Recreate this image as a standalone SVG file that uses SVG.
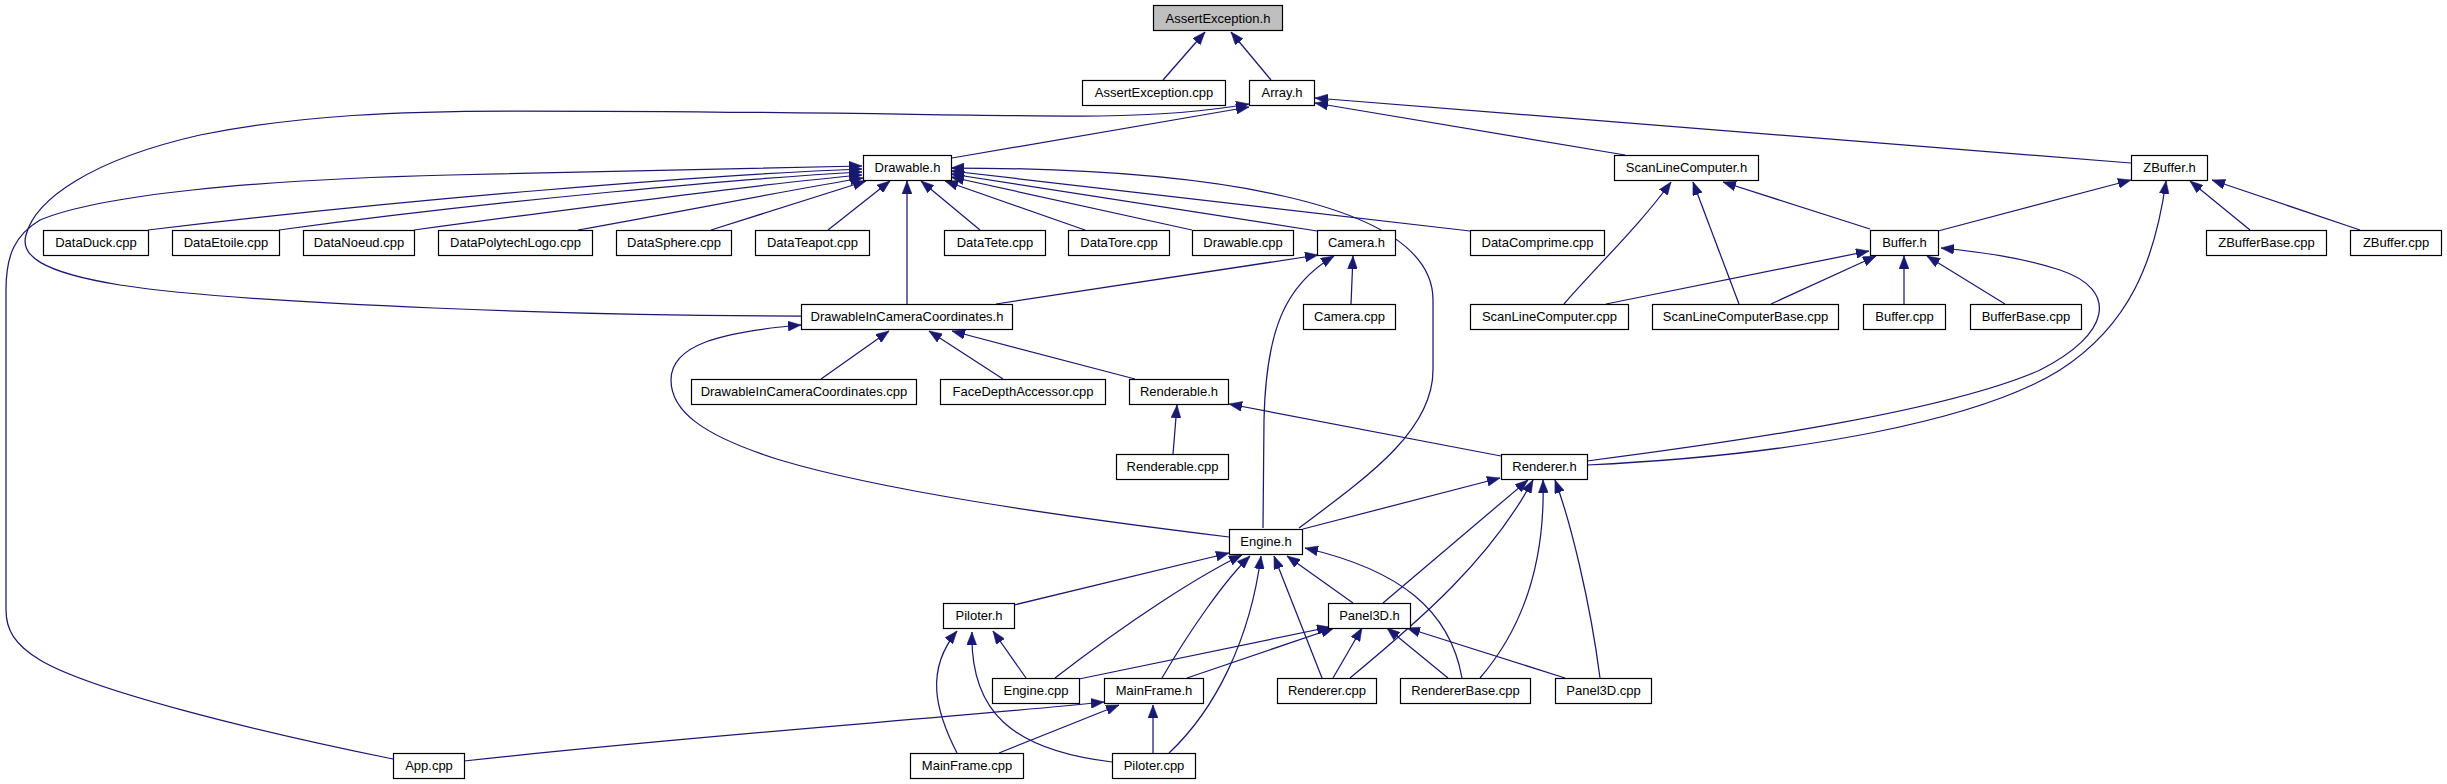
<svg xmlns="http://www.w3.org/2000/svg" width="2447" height="784" viewBox="0 0 2447 784">
<style>
.n rect{fill:#fff;stroke:#000;stroke-width:1.2}
.n text{font-family:"Liberation Sans",Arial,sans-serif;font-size:13px;text-anchor:middle;fill:#000}
#edges path{fill:none;stroke:#191970;stroke-width:1.25;marker-end:url(#ah)}
</style>
<defs>
<marker id="ah" viewBox="0 0 13 10" refX="13" refY="5" markerWidth="13" markerHeight="10" markerUnits="userSpaceOnUse" orient="auto"><path d="M0,0 L13,5 L0,10 z" fill="#191970" stroke="#191970" stroke-width="0.5"/></marker>
</defs>
<rect width="2447" height="784" fill="#fff"/>
<g id="edges">
<path d="M1163,80 L1205,32"/>
<path d="M1271,80 L1231,32"/>
<path d="M952,158 L1249,107"/>
<path d="M801,316 C600,316 250,305 120,285 C40,272 20,255 26,235 C35,200 90,160 200,135 C300,115 400,111 520,111 C800,111 1000,117 1100,116 C1170,115 1220,109 1249,104"/>
<path d="M393,759 C250,730 90,690 40,660 C15,645 6,630 6,610 L6,290 C6,255 15,235 40,220 C100,195 250,180 450,175 C650,170 780,167 862,166"/>
<path d="M148,230 C400,200 700,175 862,169"/>
<path d="M279,230 C500,200 750,178 862,172"/>
<path d="M414,230 C600,205 780,182 862,175"/>
<path d="M578,230 C700,208 800,188 863,178"/>
<path d="M711,230 L866,181"/>
<path d="M828,230 L890,181"/>
<path d="M907,304 L907,181"/>
<path d="M980,230 L921,181"/>
<path d="M1085,230 L945,181"/>
<path d="M1192,230 L951,177"/>
<path d="M1317,231 L951,174"/>
<path d="M1470,231 L951,171"/>
<path d="M1299,528 C1370,475 1433,430 1433,370 L1433,300 C1433,200 1200,168 951,168"/>
<path d="M996,304 L1318,255"/>
<path d="M1351,304 L1353,256"/>
<path d="M1263,528 L1264,420 C1266,330 1285,285 1334,256"/>
<path d="M821,379 L889,331"/>
<path d="M1003,379 L929,331"/>
<path d="M1135,379 L952,331"/>
<path d="M1229,537 C1050,515 880,490 780,460 C700,435 671,410 671,380 C671,345 720,332 801,325"/>
<path d="M1173,454 L1177,405"/>
<path d="M1501,456 L1229,404"/>
<path d="M1625,155 L1315,103"/>
<path d="M2131,163 L1315,98"/>
<path d="M1564,304 C1595,268 1640,225 1671,182"/>
<path d="M1739,304 L1693,182"/>
<path d="M1870,229 L1723,182"/>
<path d="M1938,231 L2131,180"/>
<path d="M1606,304 L1869,251"/>
<path d="M1771,304 L1876,256"/>
<path d="M1904,304 L1904,256"/>
<path d="M2005,304 L1927,256"/>
<path d="M1587,461 C1750,440 1950,410 2040,370 C2110,335 2120,290 2060,270 C2020,257 1980,252 1941,248"/>
<path d="M1587,465 C1800,455 1980,420 2060,370 C2130,325 2155,260 2166,181"/>
<path d="M2250,230 L2190,181"/>
<path d="M2360,230 L2212,180"/>
<path d="M1303,529 L1500,478"/>
<path d="M1383,603 L1528,480"/>
<path d="M1350,678 C1420,620 1490,560 1533,480"/>
<path d="M1480,678 C1530,620 1545,550 1543,480"/>
<path d="M1600,678 C1590,600 1570,520 1555,480"/>
<path d="M1014,605 L1229,553"/>
<path d="M1055,678 C1130,620 1200,575 1242,555"/>
<path d="M1162,678 C1190,630 1225,580 1250,556"/>
<path d="M1169,753 C1215,710 1250,640 1261,556"/>
<path d="M1322,678 L1274,556"/>
<path d="M1353,603 L1287,556"/>
<path d="M1462,678 C1450,610 1400,570 1305,548"/>
<path d="M1026,678 L993,631"/>
<path d="M957,753 C935,710 925,670 957,631"/>
<path d="M1112,762 C1010,750 970,710 972,632"/>
<path d="M1079,679 L1330,627"/>
<path d="M1187,678 L1334,628"/>
<path d="M1333,678 L1362,628"/>
<path d="M1448,678 L1387,628"/>
<path d="M1565,678 L1407,628"/>
<path d="M464,761 C700,735 950,718 1104,702"/>
<path d="M999,753 L1119,705"/>
<path d="M1153,753 L1153,705"/>
</g>
<g id="n_AssertException_h" class="n"><rect x="1153.5" y="5.5" width="129" height="25" style="fill:#bfbfbf"/><text x="1218" y="22.5">AssertException.h</text></g>
<g id="n_AssertException_cpp" class="n"><rect x="1082.5" y="80.5" width="143" height="25"/><text x="1154" y="97">AssertException.cpp</text></g>
<g id="n_Array_h" class="n"><rect x="1249.5" y="80.5" width="65" height="25"/><text x="1282" y="97">Array.h</text></g>
<g id="n_Drawable_h" class="n"><rect x="863.5" y="155.5" width="88" height="25"/><text x="907.5" y="172">Drawable.h</text></g>
<g id="n_ScanLineComputer_h" class="n"><rect x="1614.5" y="155.5" width="144" height="25"/><text x="1686.5" y="172">ScanLineComputer.h</text></g>
<g id="n_ZBuffer_h" class="n"><rect x="2131.5" y="155.5" width="76" height="25"/><text x="2169.5" y="172">ZBuffer.h</text></g>
<g id="n_DataDuck_cpp" class="n"><rect x="43.5" y="230.5" width="105" height="25"/><text x="96" y="247">DataDuck.cpp</text></g>
<g id="n_DataEtoile_cpp" class="n"><rect x="172.5" y="230.5" width="107" height="25"/><text x="226" y="247">DataEtoile.cpp</text></g>
<g id="n_DataNoeud_cpp" class="n"><rect x="303.5" y="230.5" width="111" height="25"/><text x="359" y="247">DataNoeud.cpp</text></g>
<g id="n_DataPolytechLogo_cpp" class="n"><rect x="438.5" y="230.5" width="154" height="25"/><text x="515.5" y="247">DataPolytechLogo.cpp</text></g>
<g id="n_DataSphere_cpp" class="n"><rect x="616.5" y="230.5" width="115" height="25"/><text x="674" y="247">DataSphere.cpp</text></g>
<g id="n_DataTeapot_cpp" class="n"><rect x="755.5" y="230.5" width="114" height="25"/><text x="812.5" y="247">DataTeapot.cpp</text></g>
<g id="n_DataTete_cpp" class="n"><rect x="944.5" y="230.5" width="101" height="25"/><text x="995" y="247">DataTete.cpp</text></g>
<g id="n_DataTore_cpp" class="n"><rect x="1068.5" y="230.5" width="101" height="25"/><text x="1119" y="247">DataTore.cpp</text></g>
<g id="n_Drawable_cpp" class="n"><rect x="1192.5" y="230.5" width="101" height="25"/><text x="1243" y="247">Drawable.cpp</text></g>
<g id="n_Camera_h" class="n"><rect x="1317.5" y="230.5" width="78" height="25"/><text x="1356.5" y="247">Camera.h</text></g>
<g id="n_DataComprime_cpp" class="n"><rect x="1470.5" y="230.5" width="134" height="25"/><text x="1537.5" y="247">DataComprime.cpp</text></g>
<g id="n_Buffer_h" class="n"><rect x="1870.5" y="230.5" width="68" height="25"/><text x="1904.5" y="247">Buffer.h</text></g>
<g id="n_ZBufferBase_cpp" class="n"><rect x="2206.5" y="230.5" width="120" height="25"/><text x="2266.5" y="247">ZBufferBase.cpp</text></g>
<g id="n_ZBuffer_cpp" class="n"><rect x="2350.5" y="230.5" width="91" height="25"/><text x="2396" y="247">ZBuffer.cpp</text></g>
<g id="n_DrawableInCameraCoordinates_h" class="n"><rect x="801.5" y="304.5" width="211" height="25"/><text x="907" y="321">DrawableInCameraCoordinates.h</text></g>
<g id="n_Camera_cpp" class="n"><rect x="1303.5" y="304.5" width="92" height="25"/><text x="1349.5" y="321">Camera.cpp</text></g>
<g id="n_ScanLineComputer_cpp" class="n"><rect x="1470.5" y="304.5" width="158" height="25"/><text x="1549.5" y="321">ScanLineComputer.cpp</text></g>
<g id="n_ScanLineComputerBase_cpp" class="n"><rect x="1652.5" y="304.5" width="186" height="25"/><text x="1745.5" y="321">ScanLineComputerBase.cpp</text></g>
<g id="n_Buffer_cpp" class="n"><rect x="1863.5" y="304.5" width="82" height="25"/><text x="1904.5" y="321">Buffer.cpp</text></g>
<g id="n_BufferBase_cpp" class="n"><rect x="1970.5" y="304.5" width="111" height="25"/><text x="2026" y="321">BufferBase.cpp</text></g>
<g id="n_DrawableInCameraCoordinates_cpp" class="n"><rect x="691.5" y="379.5" width="225" height="25"/><text x="804" y="396">DrawableInCameraCoordinates.cpp</text></g>
<g id="n_FaceDepthAccessor_cpp" class="n"><rect x="940.5" y="379.5" width="165" height="25"/><text x="1023" y="396">FaceDepthAccessor.cpp</text></g>
<g id="n_Renderable_h" class="n"><rect x="1129.5" y="379.5" width="99" height="25"/><text x="1179" y="396">Renderable.h</text></g>
<g id="n_Renderable_cpp" class="n"><rect x="1116.5" y="454.5" width="112" height="25"/><text x="1172.5" y="471">Renderable.cpp</text></g>
<g id="n_Renderer_h" class="n"><rect x="1501.5" y="454.5" width="86" height="25"/><text x="1544.5" y="471">Renderer.h</text></g>
<g id="n_Engine_h" class="n"><rect x="1229.5" y="529.5" width="73" height="25"/><text x="1266" y="546">Engine.h</text></g>
<g id="n_Piloter_h" class="n"><rect x="943.5" y="603.5" width="71" height="25"/><text x="979" y="620">Piloter.h</text></g>
<g id="n_Panel3D_h" class="n"><rect x="1328.5" y="603.5" width="82" height="25"/><text x="1369.5" y="620">Panel3D.h</text></g>
<g id="n_Engine_cpp" class="n"><rect x="992.5" y="678.5" width="87" height="25"/><text x="1036" y="695">Engine.cpp</text></g>
<g id="n_MainFrame_h" class="n"><rect x="1104.5" y="678.5" width="99" height="25"/><text x="1154" y="695">MainFrame.h</text></g>
<g id="n_Renderer_cpp" class="n"><rect x="1277.5" y="678.5" width="99" height="25"/><text x="1327" y="695">Renderer.cpp</text></g>
<g id="n_RendererBase_cpp" class="n"><rect x="1400.5" y="678.5" width="130" height="25"/><text x="1465.5" y="695">RendererBase.cpp</text></g>
<g id="n_Panel3D_cpp" class="n"><rect x="1555.5" y="678.5" width="96" height="25"/><text x="1603.5" y="695">Panel3D.cpp</text></g>
<g id="n_App_cpp" class="n"><rect x="393.5" y="753.5" width="71" height="25"/><text x="429" y="770">App.cpp</text></g>
<g id="n_MainFrame_cpp" class="n"><rect x="910.5" y="753.5" width="113" height="25"/><text x="967" y="770">MainFrame.cpp</text></g>
<g id="n_Piloter_cpp" class="n"><rect x="1112.5" y="753.5" width="83" height="25"/><text x="1154" y="770">Piloter.cpp</text></g>
</svg>
